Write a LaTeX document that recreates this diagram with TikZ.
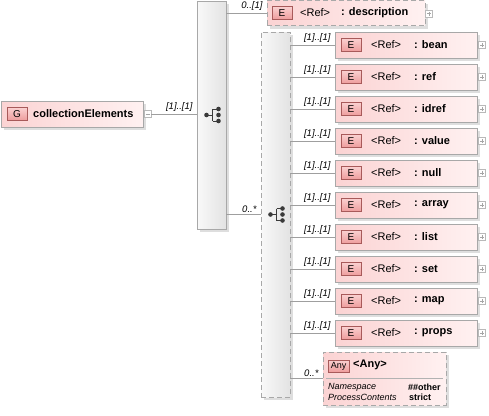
\documentclass[tikz,border=0pt]{standalone}
\usepackage{fontspec}
\setmainfont{Liberation Sans}
\usetikzlibrary{shadows}

\definecolor{boxgray}{HTML}{A8A8A8}
\definecolor{pinkleft}{HTML}{FBD3D3}
\definecolor{pinkright}{HTML}{FFF1F1}
\definecolor{badgetop}{HTML}{FAD0D0}
\definecolor{badgebot}{HTML}{EE9C9C}
\definecolor{badgeedge}{HTML}{A85A5A}
\definecolor{iconcol}{HTML}{3A3A3A}

\tikzset{
  boxshadow/.style={general shadow={fill=black!13, shadow xshift=3pt, shadow yshift=-3pt}},
  elbox/.style={draw=boxgray, rectangle, inner sep=0pt, left color=pinkleft, right color=pinkright, boxshadow, minimum width=142pt, minimum height=26pt},
  badge/.style={draw=badgeedge, rectangle, inner sep=0pt, top color=badgetop, bottom color=badgebot, minimum width=20pt, minimum height=13pt, font=\fontsize{10}{10}\selectfont},
  seqbox/.style={draw=boxgray, rectangle, inner sep=0pt, left color=gray!5, right color=gray!22, boxshadow, minimum width=29pt},
  dashbox/.style={dash pattern=on 5pt off 3pt},
  nametext/.style={inner sep=0pt, anchor=west, font=\bfseries\fontsize{11}{11}\selectfont},
  reftext/.style={inner sep=0pt, anchor=west, font=\fontsize{11}{11}\selectfont},
  smalltext/.style={inner sep=0pt, anchor=west, font=\itshape\fontsize{9}{9}\selectfont},
  card/.style={pos=1, anchor=south east, inner sep=0pt, xshift=-4pt, yshift=2pt, font=\itshape\fontsize{9.5}{9.5}\selectfont},
  link/.style={draw=gray!75, line width=0.6pt},
  plusbox/.style={draw=gray!55, fill=white, rectangle, inner sep=0pt, minimum size=7pt,
    path picture={\draw[gray!70, line width=0.5pt]
      ([xshift=-2pt]path picture bounding box.center) -- ([xshift=2pt]path picture bounding box.center)
      ([yshift=-2pt]path picture bounding box.center) -- ([yshift=2pt]path picture bounding box.center);}},
  minusbox/.style={plusbox, path picture={\draw[gray!70, line width=0.5pt]
      ([xshift=-2pt]path picture bounding box.center) -- ([xshift=2pt]path picture bounding box.center);}}
}

\newcommand\seqicon[1]{%
  \begin{scope}[shift={(#1)}]
    \draw[iconcol, line width=0.7pt] (-5,0) -- (1,0) (1,-6) -- (1,6) (1,-6) -- (7,-6) (1,6) -- (7,6);
    \fill[iconcol] (-5,0) circle (2.3pt) (7,-6) circle (2.3pt) (7,0) circle (2.3pt) (7,6) circle (2.3pt);
  \end{scope}}

\begin{document}
\begin{tikzpicture}[x=1pt, y=-1pt]
  \useasboundingbox (0,0) rectangle (489,415);

  \node[elbox, minimum width=142pt] (grp) at (72,114) {};
  \node[badge] (grpbadge) at (17,114) {G};
  \node[nametext] (grpname) at (33,114) {collectionElements};
  \node[minusbox] (grpmin) at (147.5,114) {};

  \node[seqbox, minimum height=228pt] (seqA) at (211.5,115) {};
  \seqicon{seqA.center}
  \node[seqbox, dashbox, minimum height=365pt] (seqB) at (275.5,214.5) {};
  \seqicon{seqB.center}

  \draw[link] (grpmin.east) -- (seqA.west |- grpmin.east) node[card] {[1]..[1]};

  \node[elbox, dashbox, minimum width=158pt, minimum height=25pt] (desc) at (346,13) {};
  \node[badge] (descbadge) at (282,13) {E};
  \node[reftext] (descref) at (300,13) {<Ref>};
  \node[nametext] (descname) at (341,13) {: description};
  \node[plusbox] (descplus) at (429,13.5) {};
  \draw[link] (seqA.east |- desc.west) -- (desc.west) node[card] {0..[1]};

  \draw[link] (seqA.east |- seqB.center) -- (seqB.west) node[card] {0..*};

  \foreach \name [count=\i from 0] in {bean,ref,idref,value,null,array,list,set,map,props} {
    \node[elbox] (el\i) at (406,45+32*\i) {};
    \node[badge] (badge\i) at (351,45+32*\i) {E};
    \node[reftext] (ref\i) at (371,45+32*\i) {<Ref>};
    \node[nametext] (nm\i) at (414,45+32*\i) {: \name};
    \node[plusbox] (plus\i) at (482,45+32*\i) {};
    \draw[link] (seqB.east |- el\i.west) -- (el\i.west) node[card] {[1]..[1]};
  }

  \node[elbox, dashbox, minimum width=123pt, minimum height=53pt] (anyel) at (384.5,378.5) {};
  \node[badge, minimum width=21pt, minimum height=12pt, font=\fontsize{9}{9}\selectfont] (anybadge) at (338.5,366) {Any};
  \node[nametext] (anyname) at (353,365) {<Any>};
  \draw[gray!60] ([xshift=3pt]anyel.west) -- ([xshift=-3pt]anyel.east);
  \node[smalltext] (nsname) at (328,387) {Namespace};
  \node[smalltext, font=\bfseries\fontsize{9}{9}\selectfont] (nsval) at (408,387) {\#\#other};
  \node[smalltext] (pcname) at (328,397) {ProcessContents};
  \node[smalltext, font=\bfseries\fontsize{9}{9}\selectfont] (pcval) at (409,397) {strict};
  \draw[link] (seqB.east |- anyel.west) -- (anyel.west) node[card] {0..*};
\end{tikzpicture}
\end{document}
